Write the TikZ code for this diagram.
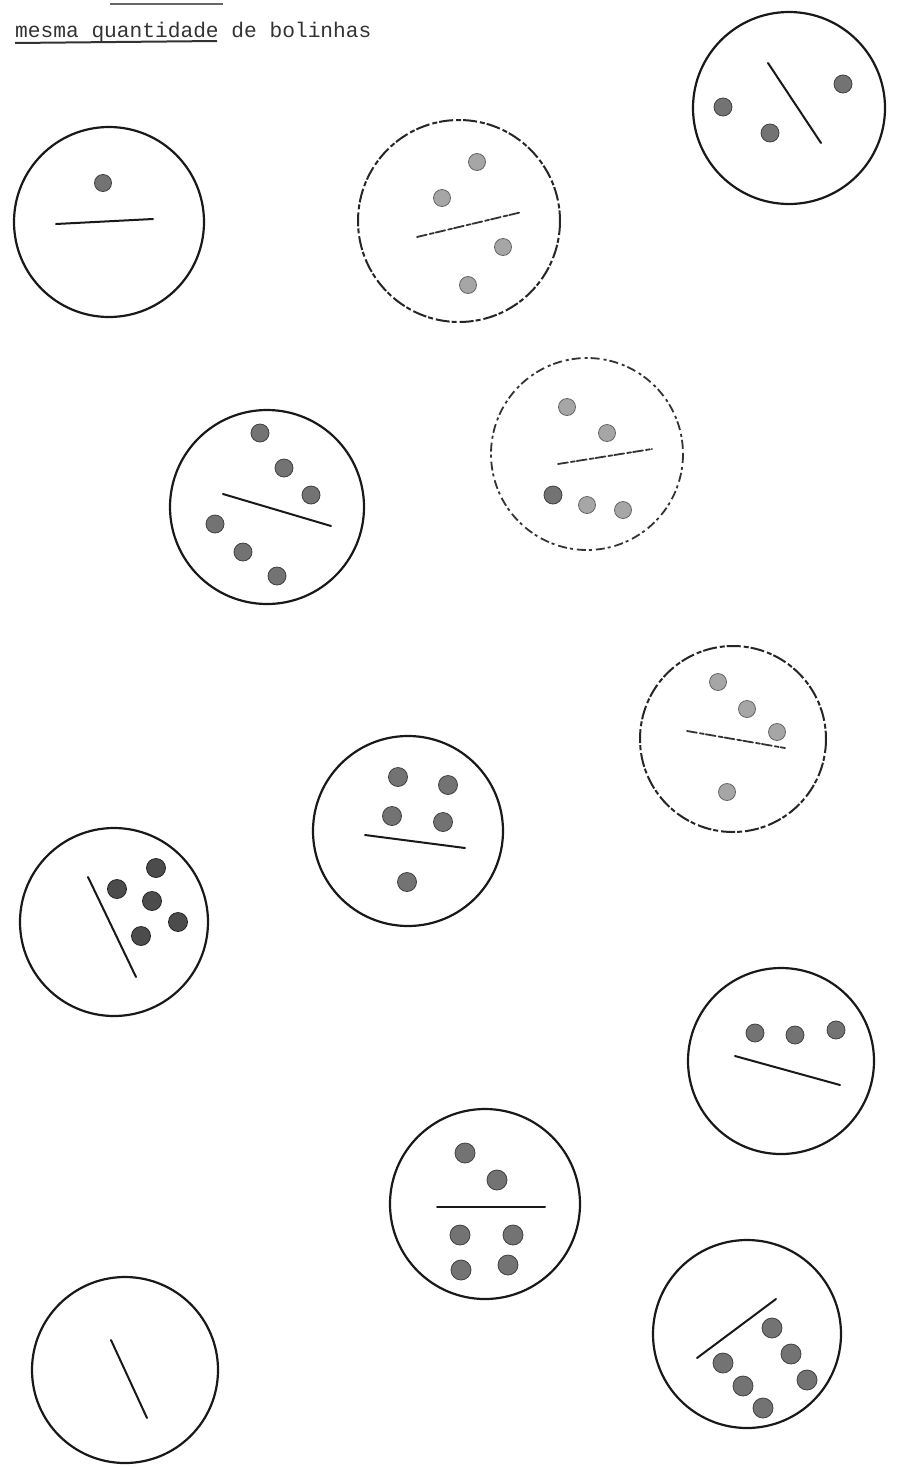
\documentclass[tikz,border=0pt]{standalone}
\usepackage{fontspec}
\setmonofont{Liberation Mono}
\begin{document}
\begin{tikzpicture}[x=1pt,y=-1pt,
  disc/.style={draw=black!90, line width=2.2pt},
  faint/.style={draw=black!85, line width=2pt, dash pattern=on 14pt off 3pt on 5pt off 2pt},
  broken/.style={draw=black!80, line width=1.8pt, dash pattern=on 9pt off 4pt on 3pt off 3pt},
  bar/.style={draw=black!90, line width=2pt, line cap=round},
  dbar/.style={draw=black!80, line width=1.8pt, line cap=round, dash pattern=on 10pt off 3pt on 4pt off 2pt},
  dot/.style={fill=black!55, draw=black!75, line width=0.8pt},
  ldot/.style={fill=black!35, draw=black!60, line width=0.8pt},
  ddot/.style={fill=black!70, draw=black!85, line width=0.8pt}]
\useasboundingbox (0,0) rectangle (905,1467);
\fill[white] (0,0) rectangle (905,1467);
% heading
\node[anchor=base west, inner sep=0pt, font=\ttfamily\fontsize{21.2}{24}\selectfont, text=black!80] (title) at (15,37) {mesma quantidade de bolinhas};
\draw[line width=2pt, black!80] (15,43) -- (217,41);
\draw[line width=1.5pt, black!60] (110,4) -- (223,4);
% A
\draw[disc] (109,222) circle (95);
\fill[dot] (103,183) circle (8.5);
\draw[bar] (56,224) -- (153,219);
% B
\draw[faint] (459,221) circle (101);
\foreach \p in {(477,162),(442,198),(503,247),(468,285)} \fill[ldot] \p circle (8.5);
\draw[dbar] (417,237) -- (522,212);
% C
\draw[disc] (789,108) circle (96);
\foreach \p in {(723,107),(770,133),(843,84)} \fill[dot] \p circle (9);
\draw[bar] (768,63) -- (821,143);
% D
\draw[disc] (267,507) circle (97);
\foreach \p in {(260,433),(284,468),(311,495),(215,524),(243,552),(277,576)} \fill[dot] \p circle (9);
\draw[bar] (223,494) -- (331,526);
% E
\draw[broken] (587,454) circle (96);
\foreach \p in {(567,407),(607,433),(587,505),(623,510)} \fill[ldot] \p circle (8.5);
\fill[dot] (553,495) circle (9);
\draw[dbar] (558,464) -- (652,449);
% F
\draw[faint] (733,739) circle (93);
\foreach \p in {(718,682),(747,709),(777,732),(727,792)} \fill[ldot] \p circle (8.5);
\draw[dbar] (687,731) -- (785,748);
% G
\draw[disc] (408,831) circle (95);
\foreach \p in {(398,777),(448,785),(392,816),(443,822),(407,882)} \fill[dot] \p circle (9.5);
\draw[bar] (365,835) -- (465,848);
% H
\draw[disc] (114,922) circle (94);
\foreach \p in {(156,868),(117,889),(152,901),(178,922),(141,936)} \fill[ddot] \p circle (9.5);
\draw[bar] (88,877) -- (136,977);
% I
\draw[disc] (781,1061) circle (93);
\foreach \p in {(755,1033),(795,1035),(836,1030)} \fill[dot] \p circle (9);
\draw[bar] (735,1056) -- (840,1085);
% J
\draw[disc] (485,1204) circle (95);
\foreach \p in {(465,1153),(497,1180),(460,1235),(513,1235),(461,1270),(508,1265)} \fill[dot] \p circle (10);
\draw[bar] (437,1207) -- (545,1207);
% K
\draw[disc] (125,1370) circle (93);
\draw[bar] (111,1340) -- (147,1418);
% L
\draw[disc] (747,1334) circle (94);
\foreach \p in {(772,1328),(791,1354),(807,1380),(723,1363),(743,1386),(763,1408)} \fill[dot] \p circle (10);
\draw[bar] (697,1358) -- (776,1299);
\end{tikzpicture}
\end{document}
